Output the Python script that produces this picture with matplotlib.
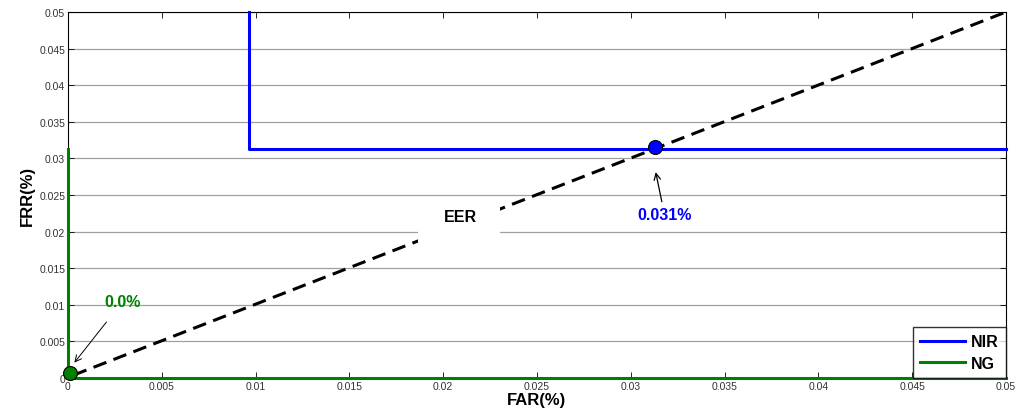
import matplotlib
matplotlib.use("Agg")
import matplotlib.pyplot as plt
from matplotlib.patches import Rectangle
import numpy as np

plt.rcParams['font.family'] = ['Liberation Sans', 'DejaVu Sans']

# Data
nir_far = [0.00965, 0.00965, 0.05]
nir_frr = [0.05, 0.0313, 0.0313]
ng_far = [0.0, 0.0, 0.05]
ng_frr = [0.0313, 0.0, 0.0]
eer_line_x = [0.0003, 0.05]
eer_line_y = [0.0004, 0.05]
nir_eer = (0.0313, 0.0315)
ng_eer = (0.0001, 0.0007)
x_ticks = [0, 0.005, 0.01, 0.015, 0.02, 0.025, 0.03, 0.035, 0.04, 0.045, 0.05]
y_ticks = [0, 0.005, 0.01, 0.015, 0.02, 0.025, 0.03, 0.035, 0.04, 0.045, 0.05]
x_labels = ['0', '0.005', '0.01', '0.015', '0.02', '0.025', '0.03', '0.035', '0.04', '0.045', '0.05']
y_labels = ['0', '0.005', '0.01', '0.015', '0.02', '0.025', '0.03', '0.035', '0.04', '0.045', '0.05']

fig = plt.figure(figsize=(10.22, 4.14), dpi=100)
ax = fig.add_axes([0.0665, 0.0845, 0.9178, 0.8841])

ax.set_xlim(0, 0.05)
ax.set_ylim(0, 0.05)
ax.set_xticks(x_ticks)
ax.set_yticks(y_ticks)
ax.set_xticklabels(x_labels)
ax.set_yticklabels(y_labels)
ax.tick_params(direction='in', length=4, width=0.6, labelsize=7.5, colors='black',
               labelcolor='#333333', top=True, right=True, pad=2)
ax.yaxis.grid(True, color='#a0a0a0', linewidth=0.9)
ax.set_axisbelow(True)
for s in ax.spines.values():
    s.set_linewidth(0.8)

ax.plot(eer_line_x, eer_line_y, color='black', linestyle=(0, (4.5, 2.5)), linewidth=2.2, zorder=3)
l1, = ax.plot(nir_far, nir_frr, color='#0000ff', linewidth=2.2, label='NIR', zorder=4, clip_on=False)
l2, = ax.plot(ng_far, ng_frr, color='#008000', linewidth=2.2, label='NG', zorder=4, clip_on=False)

ax.plot([nir_eer[0]], [nir_eer[1]], 'o', markersize=10, markerfacecolor='#0000ff',
        markeredgecolor='black', markeredgewidth=0.8, zorder=5)
ax.plot([ng_eer[0]], [ng_eer[1]], 'o', markersize=10, markerfacecolor='#008000',
        markeredgecolor='black', markeredgewidth=0.8, zorder=5, clip_on=False)

# white label box of the EER text
ax.add_patch(Rectangle((0.01866, 0.0183), 0.00437, 0.0054, facecolor='white',
                       edgecolor='none', zorder=5.5))
ax.text(0.0209, 0.0220, 'EER', fontsize=11.5, fontweight='bold', ha='center', va='center',
        zorder=6)

ax.annotate('0.031%', xy=(0.0313, 0.0285), xytext=(0.0318, 0.0223),
            fontsize=11.5, fontweight='bold', color='#0000ff', ha='center', va='center',
            arrowprops=dict(arrowstyle='->', color='black', lw=0.9), zorder=6)
ax.annotate('0.0%', xy=(0.00025, 0.0018), xytext=(0.0029, 0.0104),
            fontsize=11.5, fontweight='bold', color='#008000', ha='center', va='center',
            arrowprops=dict(arrowstyle='->', color='black', lw=0.7, shrinkA=9), zorder=6)

ax.set_xlabel('FAR(%)', fontsize=12, fontweight='bold', labelpad=1)
ax.set_ylabel('FRR(%)', fontsize=12, fontweight='bold', labelpad=3)

leg = ax.legend(handles=[l1, l2], loc='lower right', prop={'weight': 'bold', 'size': 11.5},
                frameon=True, fancybox=False, edgecolor='black', borderaxespad=0,
                handlelength=2.8, handletextpad=0.4, labelspacing=0.4, borderpad=0.45)
leg.get_frame().set_linewidth(1.0)
leg.set_zorder(7)

fig.savefig('out.png', dpi=100)
